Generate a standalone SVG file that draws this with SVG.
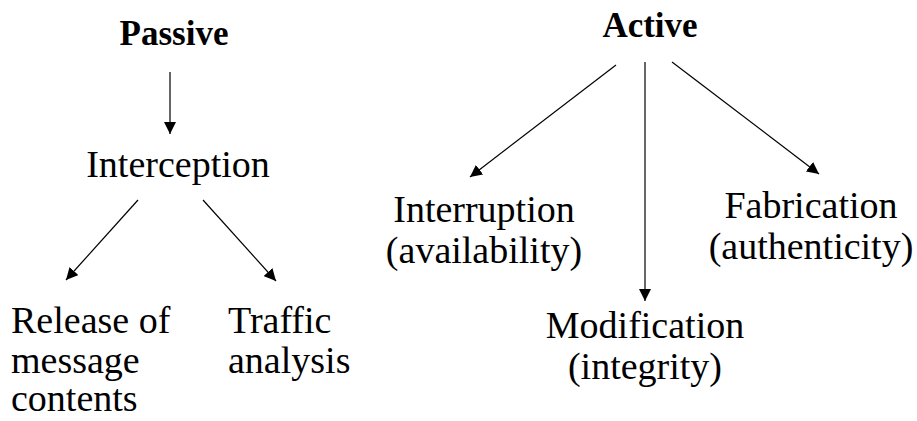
<svg xmlns="http://www.w3.org/2000/svg" width="917" height="421" viewBox="0 0 917 421">
<defs>
<marker id="ah" markerUnits="userSpaceOnUse" markerWidth="12" markerHeight="12" viewBox="0 0 10 10" refX="10" refY="5" orient="auto">
<path d="M0,0 L10,5 L0,10 Z" fill="#000"/>
</marker>
<style>
text{font-family:"Liberation Serif","Times New Roman",serif;fill:#000;}
.b{font-weight:bold;font-size:35px;}
.r{font-size:38px;}
.c{text-anchor:middle;}
.e{stroke:#000;stroke-width:1.2;fill:none;marker-end:url(#ah);}
</style>
</defs>
<rect width="917" height="421" fill="#fff"/>
<g id="passive"><text class="b c" x="174" y="45">Passive</text></g>
<g id="interception"><text class="r c" x="178" y="177">Interception</text></g>
<g id="release"><text class="r" x="11" y="333">Release of</text><text class="r" x="11" y="373">message</text><text class="r" x="11" y="411">contents</text></g>
<g id="traffic"><text class="r" x="228" y="333">Traffic</text><text class="r" x="228" y="373">analysis</text></g>
<g id="active"><text class="b c" x="650" y="37">Active</text></g>
<g id="interruption"><text class="r c" x="484" y="222">Interruption</text><text class="r c" x="484" y="263">(availability)</text></g>
<g id="fabrication"><text class="r c" x="811" y="218">Fabrication</text><text class="r c" x="811" y="259">(authenticity)</text></g>
<g id="modification"><text class="r c" x="645" y="338">Modification</text><text class="r c" x="645" y="379">(integrity)</text></g>
<g id="connectors">
<line class="e" x1="170" y1="72" x2="170" y2="134"/>
<line class="e" x1="138" y1="200" x2="66" y2="280"/>
<line class="e" x1="203" y1="200" x2="276" y2="281"/>
<line class="e" x1="616" y1="65" x2="470" y2="177"/>
<line class="e" x1="645" y1="62" x2="645" y2="301"/>
<line class="e" x1="672" y1="62" x2="819" y2="174"/>
</g>
</svg>
